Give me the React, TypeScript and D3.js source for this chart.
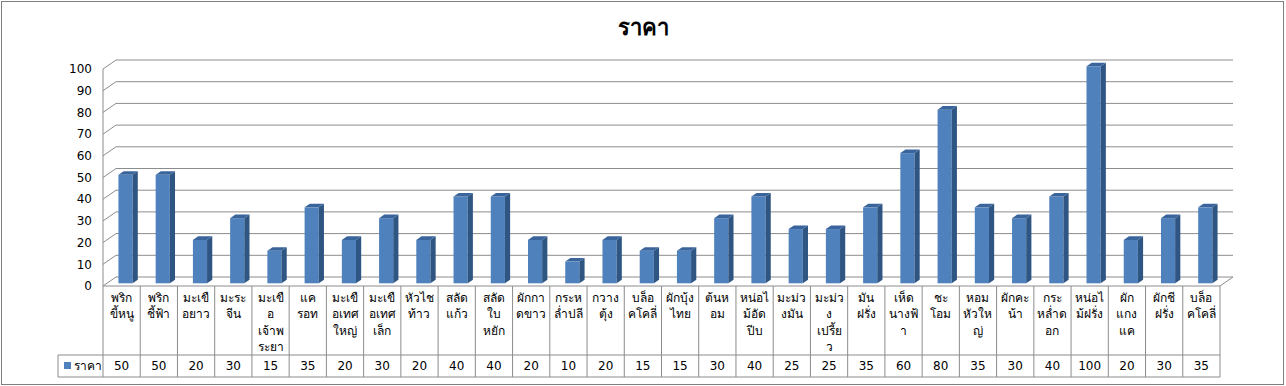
import React from "react";
import * as d3 from "d3";

const categories: string[][] = [
  ["พริก", "ขี้หนู"],
  ["พริก", "ชี้ฟ้า"],
  ["มะเขื", "อยาว"],
  ["มะระ", "จีน"],
  ["มะเขื", "อ", "เจ้าพ", "ระยา"],
  ["แค", "รอท"],
  ["มะเขื", "อเทศ", "ใหญ่"],
  ["มะเขื", "อเทศ", "เล็ก"],
  ["หัวไช", "ท้าว"],
  ["สลัด", "แก้ว"],
  ["สลัด", "ใบ", "หยัก"],
  ["ผักกา", "ดขาว"],
  ["กระห", "ล่ำปลี"],
  ["กวาง", "ตุ้ง"],
  ["บล็อ", "คโคลี่"],
  ["ผักบุ้ง", "ไทย"],
  ["ต้นห", "อม"],
  ["หน่อไ", "ม้อัด", "ปีบ"],
  ["มะม่ว", "งมัน"],
  ["มะม่ว", "ง", "เปรี้ย", "ว"],
  ["มัน", "ฝรั่ง"],
  ["เห็ด", "นางฟ้", "า"],
  ["ชะ", "โอม"],
  ["หอม", "หัวให", "ญ่"],
  ["ผักคะ", "น้า"],
  ["กระ", "หล่ำด", "อก"],
  ["หน่อไ", "ม้ฝรั่ง"],
  ["ผัก", "แกง", "แค"],
  ["ผักชี", "ฝรั่ง"],
  ["บล็อ", "คโคลี่"],
];

const values: number[] = [
  50, 50, 20, 30, 15, 35, 20, 30, 20, 40, 40, 20, 10, 20, 15, 15, 30, 40, 25,
  25, 35, 60, 80, 35, 30, 40, 100, 20, 30, 35,
];

const yTicks: number[] = [0, 10, 20, 30, 40, 50, 60, 70, 80, 90, 100];
const seriesName = "ราคา";
const title = "ราคา";

const W = 1286;
const H = 386;
const FONT = "Tahoma, 'DejaVu Sans', Verdana, sans-serif";

export default function App() {
  const n = values.length;
  const keys = d3.range(n).map(String);
  const x0 = 103;
  const x1 = 1220;
  const floorY = 286;
  const topY = 69;
  const DX = 13;
  const DY = -9;

  const x = d3.scaleBand<string>().domain(keys).range([x0, x1]).paddingInner(0).paddingOuter(0);
  const y = d3.scaleLinear().domain([0, 100]).range([floorY, topY]);
  const bw = x.bandwidth();

  const gridColor = "#8c8c8c";
  const d1 = 0.3;
  const d2 = 0.7;
  const faceW = bw * 0.38;

  const tableTop = floorY;
  const valTop = 355;
  const valBot = 377;
  const legendX = 58;

  return (
    <div style={{ position: "absolute", left: 0, top: 0 }}>
      <svg width={W} height={H} style={{ display: "block", fontFamily: FONT }}>
        <rect x={0} y={0} width={W} height={H} fill="#fff" />
        <rect x={1.5} y={1.5} width={1282} height={383} fill="none" stroke="#7f7f7f" strokeWidth={1} />
        <text x={643} y={35} textAnchor="middle" fontSize={22} fontWeight="bold" fill="#000">
          {title}
        </text>

        {yTicks.map((t) => (
          <g key={t}>
            <line x1={x0 + DX} x2={x1 + DX} y1={y(t) + DY} y2={y(t) + DY} stroke={gridColor} strokeWidth={1} />
            <line x1={x0} x2={x0 + DX} y1={y(t)} y2={y(t) + DY} stroke={gridColor} strokeWidth={1} />
            <text x={92} y={y(t)} dy="0.35em" textAnchor="end" fontSize={12} fill="#000">
              {t}
            </text>
          </g>
        ))}
        <line x1={x0} x2={x0} y1={y(100)} y2={floorY} stroke={gridColor} />
        <line x1={x1} x2={x1 + DX} y1={floorY} y2={floorY + DY} stroke={gridColor} />

        {values.map((v, i) => {
          const cx = (x(String(i)) as number) + bw / 2;
          const fx = cx - faceW / 2 + DX * d1;
          const fyTop = y(v) + DY * d1;
          const fyBot = floorY + DY * d1;
          const sdx = DX * (d2 - d1);
          const sdy = DY * (d2 - d1);
          const side = `M${fx + faceW},${fyTop} L${fx + faceW + sdx},${fyTop + sdy} L${fx + faceW + sdx},${fyBot + sdy} L${fx + faceW},${fyBot} Z`;
          const top = `M${fx},${fyTop} L${fx + sdx},${fyTop + sdy} L${fx + faceW + sdx},${fyTop + sdy} L${fx + faceW},${fyTop} Z`;
          return (
            <g key={i}>
              <rect x={fx} y={fyTop} width={faceW} height={fyBot - fyTop} fill="#4F81BD" />
              <path d={side} fill="#2F5582" />
              <path d={top} fill="#3A659C" />
            </g>
          );
        })}

        <line x1={x0} x2={x1} y1={tableTop} y2={tableTop} stroke={gridColor} />
        <line x1={legendX} x2={x1} y1={valTop} y2={valTop} stroke={gridColor} />
        <line x1={legendX} x2={x1} y1={valBot} y2={valBot} stroke={gridColor} />
        <line x1={legendX} x2={legendX} y1={valTop} y2={valBot} stroke={gridColor} />
        {d3.range(n + 1).map((i) => {
          const xx = x0 + i * bw;
          return <line key={i} x1={xx} x2={xx} y1={tableTop} y2={valBot} stroke={gridColor} />;
        })}
        {categories.map((lines, i) => {
          const cx = (x(String(i)) as number) + bw / 2;
          return (
            <text key={i} x={cx} textAnchor="middle" fontSize={12} fill="#000">
              {lines.map((l, j) => (
                <tspan key={j} x={cx} y={302 + j * 16.3}>
                  {l}
                </tspan>
              ))}
            </text>
          );
        })}
        {values.map((v, i) => {
          const cx = (x(String(i)) as number) + bw / 2;
          return (
            <text key={i} x={cx} y={(valTop + valBot) / 2} dy="0.35em" textAnchor="middle" fontSize={12} fill="#000">
              {v}
            </text>
          );
        })}
        <rect x={64} y={362} width={7} height={7} fill="#4F81BD" />
        <text x={74} y={(valTop + valBot) / 2} dy="0.35em" fontSize={12} fill="#000">
          {seriesName}
        </text>
      </svg>
    </div>
  );
}
